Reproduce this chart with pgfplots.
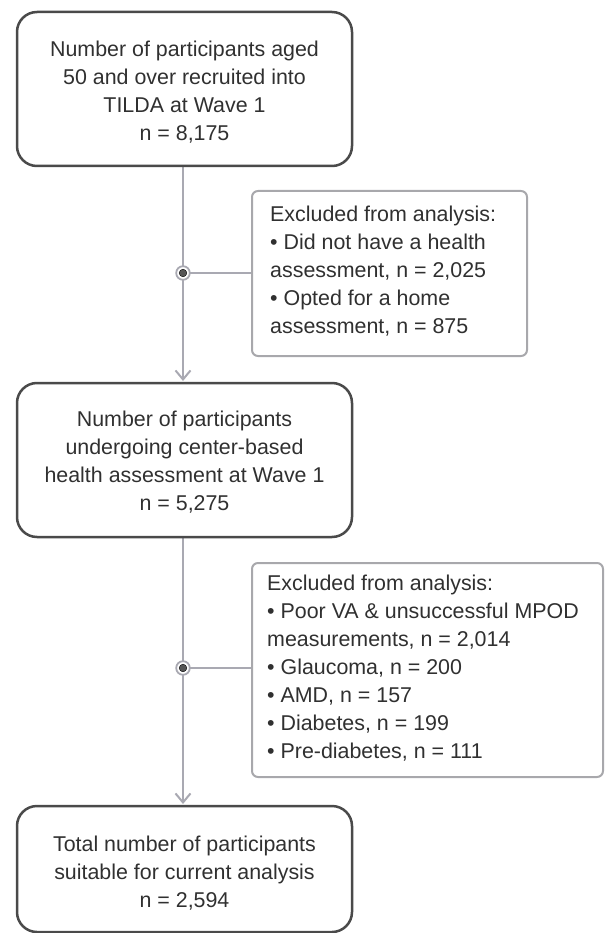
\documentclass[border=0pt]{standalone}
\usepackage{pgfplots}
\pgfplotsset{compat=1.18}
\usepackage{fontspec}
\setmainfont{Liberation Sans}
\usetikzlibrary{arrows.meta}
\definecolor{boxdark}{HTML}{4A4A4A}
\definecolor{boxlight}{HTML}{A8A8AC}
\definecolor{linegray}{HTML}{A9A9B2}
\definecolor{dotgray}{HTML}{555555}
\definecolor{txt}{HTML}{303030}
\begin{document}
\begin{tikzpicture}
\begin{axis}[name=a, at={(0,0)}, anchor=south west,
  scale only axis, width=605pt, height=933pt,
  xmin=0, xmax=605, ymin=0, ymax=933, y dir=reverse,
  hide axis, clip=false]
% connectors
\addplot[linegray, line width=2pt, -{Straight Barb[length=9pt,width=15pt,line width=2pt]}] coordinates {(183,166) (183,381)};
\addplot[linegray, line width=2pt, -{Straight Barb[length=9pt,width=15pt,line width=2pt]}] coordinates {(183,537) (183,804)};
\addplot[linegray, line width=2pt] coordinates {(183,273) (252,273)};
\addplot[linegray, line width=2pt] coordinates {(183,668) (252,668)};
% junction marks
\addplot[only marks, mark=*, mark size=6.8pt, mark options={fill=white, draw=linegray, line width=1.8pt}] coordinates {(183,273) (183,668)};
\addplot[only marks, mark=*, mark size=3.8pt, mark options={fill=dotgray, draw=none}] coordinates {(183,273) (183,668)};
% main boxes
\draw[boxdark, line width=2.5pt, rounded corners=20pt] (axis cs:17,12) rectangle (axis cs:352,166);
\draw[boxdark, line width=2.5pt, rounded corners=20pt] (axis cs:17,383) rectangle (axis cs:352,537);
\draw[boxdark, line width=2.5pt, rounded corners=20pt] (axis cs:17,806) rectangle (axis cs:352,932);
% exclusion boxes
\draw[boxlight, line width=2pt, rounded corners=6pt, fill=white] (axis cs:252,191) rectangle (axis cs:527,356);
\draw[boxlight, line width=2pt, rounded corners=6pt, fill=white] (axis cs:252,563) rectangle (axis cs:603,777);
% texts
\tikzset{t/.style={text=txt, inner sep=0pt, font=\fontsize{21.4}{28}\selectfont}}
\node[t, align=center] at (axis cs:184.5,92) {Number of participants aged\\50 and over recruited into\\TILDA at Wave 1\\n = 8,175};
\node[t, align=center] at (axis cs:184.5,462) {Number of participants\\undergoing center-based\\health assessment at Wave 1\\n = 5,275};
\node[t, align=center] at (axis cs:184.5,873) {Total number of participants\\suitable for current analysis\\n = 2,594};
\node[t, align=left, anchor=west] at (axis cs:270,271) {Excluded from analysis:\\• Did not have a health\\assessment, n = 2,025\\• Opted for a home\\assessment, n = 875};
\node[t, align=left, anchor=west] at (axis cs:267,668) {Excluded from analysis:\\• Poor VA \& unsuccessful MPOD\\measurements, n = 2,014\\• Glaucoma, n = 200\\• AMD, n = 157\\• Diabetes, n = 199\\• Pre-diabetes, n = 111};
\end{axis}
\pgfresetboundingbox
\path (a.south west) rectangle (a.north east);
\end{tikzpicture}
\end{document}
